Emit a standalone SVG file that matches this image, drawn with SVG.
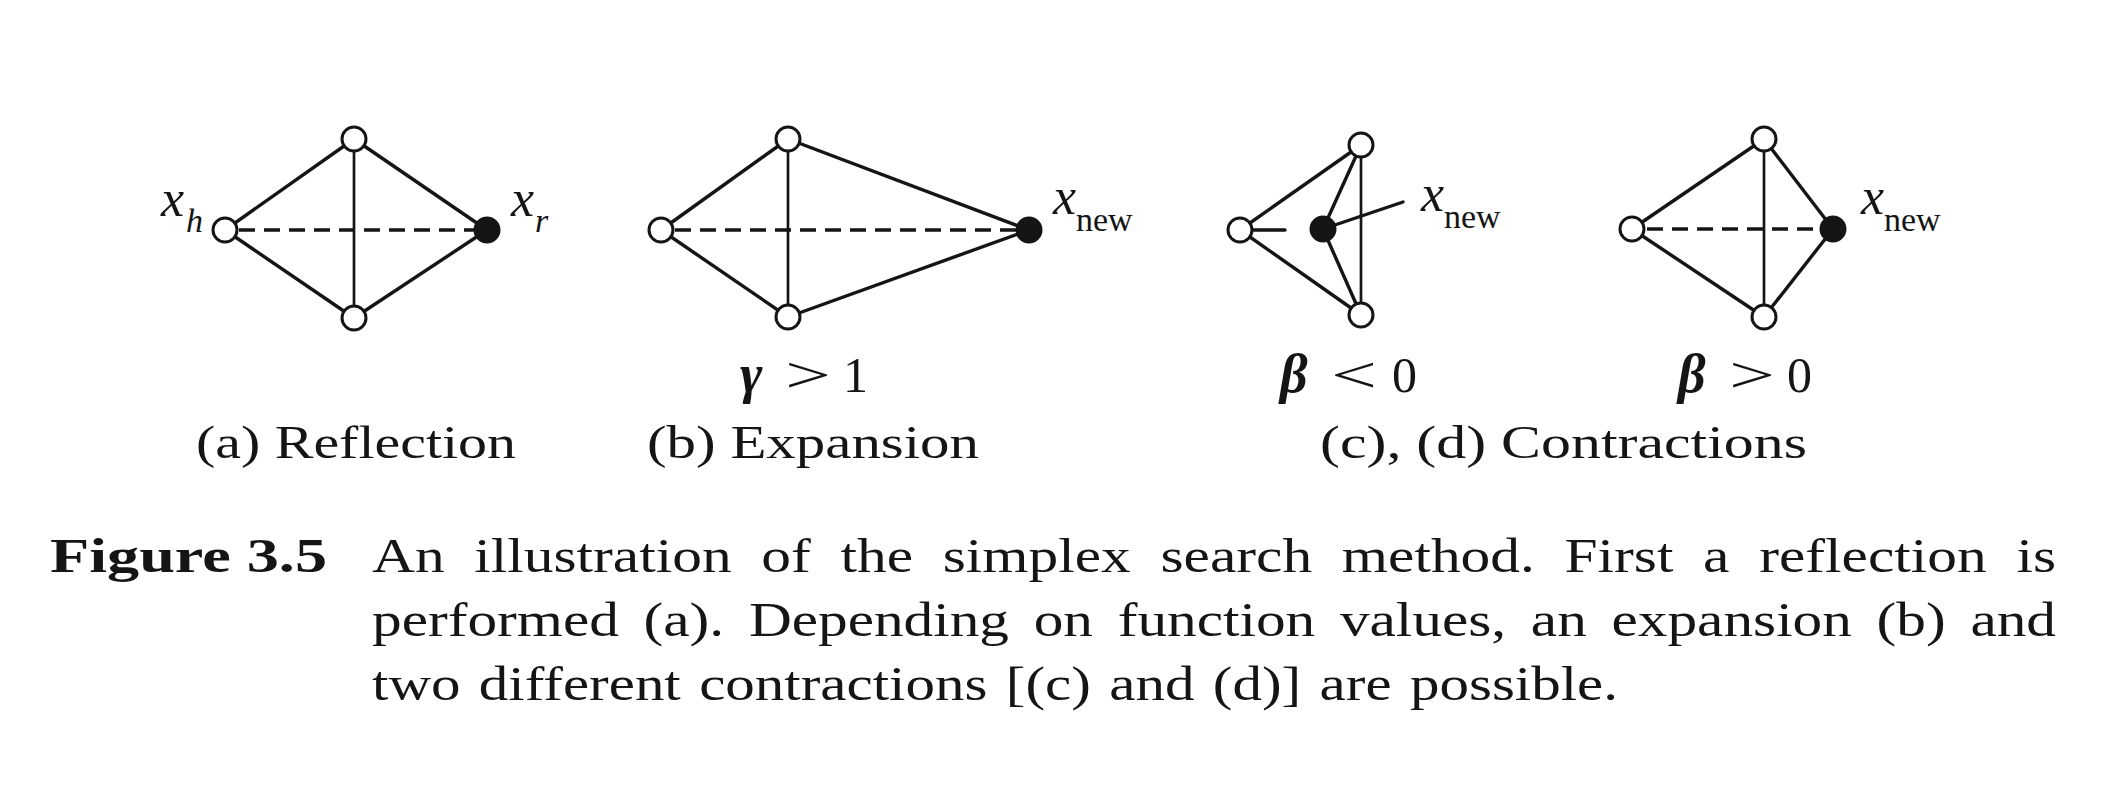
<svg xmlns="http://www.w3.org/2000/svg" width="2114" height="804" viewBox="0 0 2114 804">
<style>
.e{stroke:#151515;stroke-width:3.4;fill:none;stroke-linecap:round}
.v{stroke:#151515;stroke-width:2.7;fill:none}
.d{stroke:#151515;stroke-width:3.4;fill:none;stroke-dasharray:16 9}
.o{fill:#fff;stroke:#151515;stroke-width:3}
.f{fill:#151515;stroke:#151515;stroke-width:3}
.mx{font-family:"Liberation Serif",serif;font-style:italic;font-size:52px;fill:#151515}
.ms{font-family:"Liberation Serif",serif;font-size:34px;fill:#151515}
.msi{font-family:"Liberation Serif",serif;font-style:italic;font-size:34px;fill:#151515}
.g{font-family:"Liberation Serif",serif;font-style:italic;font-weight:bold;font-size:54px;fill:#151515}
.r{font-family:"Liberation Serif",serif;font-size:50px;fill:#151515}
.sc{font-family:"Liberation Serif",serif;font-size:47px;fill:#151515}
.cap{font-family:"Liberation Serif",serif;font-size:48px;fill:#151515}
.capb{font-family:"Liberation Serif",serif;font-size:48px;font-weight:bold;fill:#151515}
</style>
<rect width="2114" height="804" fill="#fff"/>
<g id="connectors">
  <line class="e" x1="225" y1="230" x2="354" y2="139"/>
  <line class="e" x1="354" y1="139" x2="487" y2="230"/>
  <line class="e" x1="487" y1="230" x2="354" y2="318"/>
  <line class="e" x1="354" y1="318" x2="225" y2="230"/>
  <line class="v" x1="354" y1="139" x2="354" y2="318"/>
  <line class="d" x1="239" y1="230" x2="476" y2="230"/>
  <line class="e" x1="661" y1="230" x2="788" y2="139"/>
  <line class="e" x1="788" y1="139" x2="1029" y2="230"/>
  <line class="e" x1="1029" y1="230" x2="788" y2="317"/>
  <line class="e" x1="788" y1="317" x2="661" y2="230"/>
  <line class="v" x1="788" y1="139" x2="788" y2="317"/>
  <line class="d" x1="675" y1="230" x2="1018" y2="230"/>
  <line class="e" x1="1240" y1="230" x2="1361" y2="145"/>
  <line class="e" x1="1240" y1="230" x2="1361" y2="315"/>
  <line class="e" x1="1323" y1="229" x2="1361" y2="145"/>
  <line class="e" x1="1323" y1="229" x2="1361" y2="315"/>
  <line class="v" x1="1361" y1="145" x2="1361" y2="315"/>
  <line class="e" x1="1252" y1="230" x2="1285" y2="230"/>
  <line class="e" x1="1323" y1="229" x2="1403" y2="202"/>
  <line class="e" x1="1632" y1="229" x2="1764" y2="139"/>
  <line class="e" x1="1764" y1="139" x2="1833" y2="229"/>
  <line class="e" x1="1833" y1="229" x2="1764" y2="317"/>
  <line class="e" x1="1764" y1="317" x2="1632" y2="229"/>
  <line class="v" x1="1764" y1="139" x2="1764" y2="317"/>
  <line class="d" x1="1647" y1="229" x2="1822" y2="229"/>
</g>
<g id="simplex-a">
  <circle class="o" cx="225" cy="230" r="12"/>
  <circle class="o" cx="354" cy="139" r="12"/>
  <circle class="o" cx="354" cy="318" r="12"/>
  <circle class="f" cx="487" cy="230" r="12"/>
  <text class="mx" x="161" y="216">x</text><text class="msi" x="186" y="232">h</text>
  <text class="mx" x="511" y="216">x</text><text class="msi" x="535" y="232">r</text>
</g>
<g id="simplex-b">
  <circle class="o" cx="661" cy="230" r="12"/>
  <circle class="o" cx="788" cy="139" r="12"/>
  <circle class="o" cx="788" cy="317" r="12"/>
  <circle class="f" cx="1029" cy="230" r="12"/>
  <text class="mx" x="1053" y="214">x</text><text class="ms" x="1076" y="231">new</text>
  <text class="g" x="740" y="392">γ</text>
  <text class="r" x="785" y="392" textLength="46" lengthAdjust="spacingAndGlyphs">&gt;</text>
  <text class="r" x="843" y="392">1</text>
</g>
<g id="simplex-c">
  <circle class="o" cx="1240" cy="230" r="12"/>
  <circle class="f" cx="1323" cy="229" r="12"/>
  <circle class="o" cx="1361" cy="145" r="12"/>
  <circle class="o" cx="1361" cy="315" r="12"/>
  <text class="mx" x="1421" y="211">x</text><text class="ms" x="1444" y="228">new</text>
  <text class="g" x="1280" y="392">β</text>
  <text class="r" x="1331" y="392" textLength="46" lengthAdjust="spacingAndGlyphs">&lt;</text>
  <text class="r" x="1392" y="392">0</text>
</g>
<g id="simplex-d">
  <circle class="o" cx="1632" cy="229" r="12"/>
  <circle class="o" cx="1764" cy="139" r="12"/>
  <circle class="o" cx="1764" cy="317" r="12"/>
  <circle class="f" cx="1833" cy="229" r="12"/>
  <text class="mx" x="1861" y="214">x</text><text class="ms" x="1884" y="231">new</text>
  <text class="g" x="1678" y="392">β</text>
  <text class="r" x="1729" y="392" textLength="46" lengthAdjust="spacingAndGlyphs">&gt;</text>
  <text class="r" x="1787" y="392">0</text>
</g>
<g id="subcaptions">
  <text class="sc" x="196" y="458" textLength="320" lengthAdjust="spacingAndGlyphs">(a) Reflection</text>
  <text class="sc" x="647" y="458" textLength="332" lengthAdjust="spacingAndGlyphs">(b) Expansion</text>
  <text class="sc" x="1320" y="458" textLength="487" lengthAdjust="spacingAndGlyphs">(c), (d) Contractions</text>
</g>
<g id="caption">
  <text class="capb" x="50" y="572" textLength="277" lengthAdjust="spacingAndGlyphs">Figure 3.5</text>
  <text class="cap" x="372" y="572" word-spacing="12" textLength="1684" lengthAdjust="spacingAndGlyphs">An illustration of the simplex search method. First a reflection is</text>
  <text class="cap" x="372" y="636" word-spacing="8" textLength="1684" lengthAdjust="spacingAndGlyphs">performed (a). Depending on function values, an expansion (b) and</text>
  <text class="cap" x="372" y="700" word-spacing="3" textLength="1246" lengthAdjust="spacingAndGlyphs">two different contractions [(c) and (d)] are possible.</text>
</g>
</svg>
